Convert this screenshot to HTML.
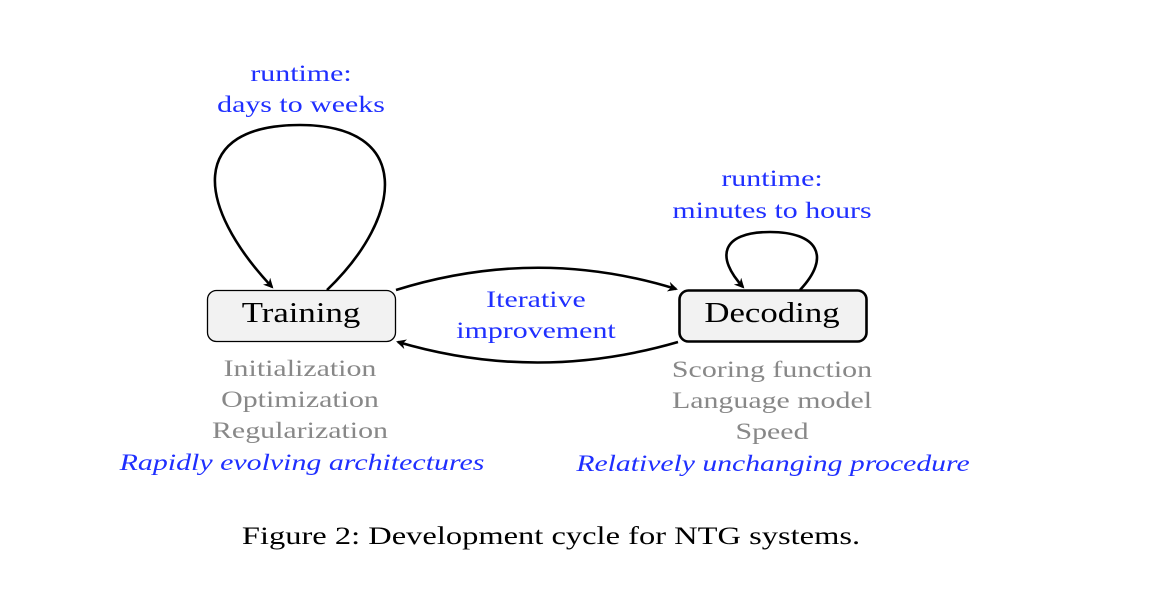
<!DOCTYPE html>
<html><head><style>
body{margin:0;width:1162px;height:590px;background:#fff;position:relative;font-family:"Liberation Serif",serif;overflow:hidden}
.t{position:absolute;white-space:nowrap;text-align:center;transform:translateX(-50%) scaleX(1.3)}
.b{color:#1f2fff}
.g{color:#888}
</style></head><body>
<svg width="1162" height="590" style="position:absolute;left:0;top:0">
<defs><marker id="a" markerWidth="10" markerHeight="10" refX="8" refY="5" orient="auto" markerUnits="userSpaceOnUse"><path d="M0,0 L10,5 L0,10 L3,5z" fill="#000"/></marker></defs>
<rect x="207.5" y="290.5" width="188" height="51" rx="9" fill="#f2f2f2" stroke="#000" stroke-width="1.3"/>
<rect x="679.5" y="290.5" width="187" height="51" rx="9" fill="#f2f2f2" stroke="#000" stroke-width="2.6"/>
<g fill="none" stroke="#000" stroke-width="2.6">
<path d="M327,290 C405,215 412,125 300,125 C188,125 195,205 272,287" marker-end="url(#a)"/>
<path d="M800,290 C832,256 817,232 770,232 C720,232 716,258 743,287" marker-end="url(#a)"/>
<path d="M396,290 Q537,246 676,289" marker-end="url(#a)"/>
<path d="M678,342 Q537,383 398,342" marker-end="url(#a)"/>
</g>
</svg>
<div class="t b" style="left:301px;top:58px;font-size:23px;line-height:31px">runtime:<br>days to weeks</div>
<div class="t b" style="left:772px;top:163px;font-size:23px;line-height:32px">runtime:<br>minutes to hours</div>
<div class="t b" style="left:536px;top:284px;font-size:23px;line-height:31px">Iterative<br>improvement</div>
<div class="t" style="left:301px;top:296px;font-size:29px;line-height:34px;transform:translateX(-50%) scaleX(1.2)">Training</div>
<div class="t" style="left:772px;top:296px;font-size:29px;line-height:34px;transform:translateX(-50%) scaleX(1.2)">Decoding</div>
<div class="t g" style="left:300px;top:353px;font-size:23px;line-height:31px">Initialization<br>Optimization<br>Regularization</div>
<div class="t b" style="left:302px;top:447px;font-size:23px;line-height:31px;font-style:italic;transform:translateX(-50%) scaleX(1.3)">Rapidly evolving architectures</div>
<div class="t g" style="left:772px;top:354px;font-size:23px;line-height:31px">Scoring function<br>Language model<br>Speed</div>
<div class="t b" style="left:773px;top:448px;font-size:23px;line-height:31px;font-style:italic;transform:translateX(-50%) scaleX(1.29)">Relatively unchanging procedure</div>
<div class="t" style="left:551px;top:521px;font-size:25px;line-height:32px">Figure 2: Development cycle for NTG systems.</div>
</body></html>
